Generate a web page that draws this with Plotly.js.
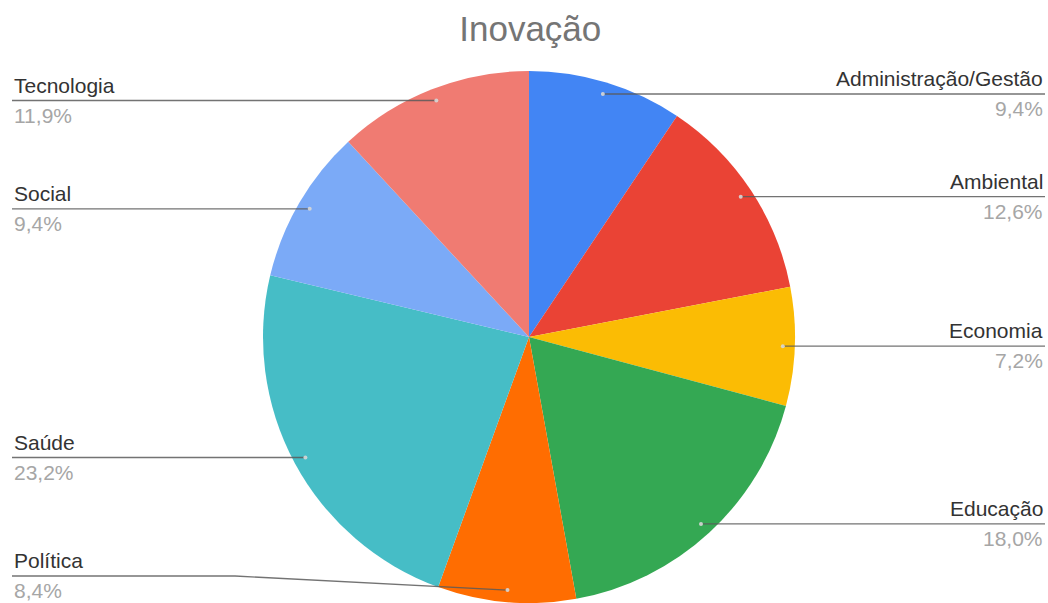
<!DOCTYPE html>
<html>
<head>
<meta charset="utf-8">
<script src="https://cdn.plot.ly/plotly-3.0.1.min.js"></script>
<style>
  html, body { margin: 0; padding: 0; background: #ffffff; }
  #chart { width: 1048px; height: 603px; }
</style>
</head>
<body>
<div id="chart"></div>
<script>
// ---- Data ----
const categories = ["Administração/Gestão", "Ambiental", "Economia", "Educação", "Política", "Saúde", "Social", "Tecnologia"];
const values = [9.4, 12.6, 7.2, 18.0, 8.4, 23.2, 9.4, 11.9];
const colors = ["#4285F4", "#EA4335", "#FBBC04", "#34A853", "#FF6D01", "#46BDC6", "#7BAAF7", "#F07B72"];
const chartTitle = "Inovação";

// ---- Layout geometry (pixels) ----
const W = 1048, H = 603;
const cx = 529, cy = 337, R = 266;
const dotR = 254;
const rightEdge = 1045, leftEdge = 12;
const maxLineY = 576;
const bendX = 235;
const fontFam = "Liberation Sans, Arial, sans-serif";

const total = values.reduce((a, b) => a + b, 0);

const shapes = [];
const annotations = [];
let cum = 0;
values.forEach((v, i) => {
  const theta = 2 * Math.PI * (cum + v / 2) / total;
  cum += v;
  const dx = cx + dotR * Math.sin(theta);
  const dy = cy - dotR * Math.cos(theta);
  const right = Math.sin(theta) > 0;
  const ly = Math.min(dy, maxLineY);
  const ex = right ? rightEdge : leftEdge;
  let path;
  if (Math.abs(ly - dy) > 0.5) {
    const bx = right ? W - bendX : bendX;
    path = `M ${ex},${ly} L ${bx},${ly} L ${dx},${dy}`;
  } else {
    path = `M ${ex},${ly} L ${dx},${dy}`;
  }
  shapes.push({
    type: "path", xref: "x", yref: "y", path: path,
    line: { color: "rgba(90,90,90,0.85)", width: 1.4 }, layer: "above"
  });
  shapes.push({
    type: "circle", xref: "x", yref: "y",
    x0: dx - 2, x1: dx + 2, y0: dy - 2, y1: dy + 2,
    fillcolor: "rgba(215,215,215,0.9)", line: { width: 0 }, layer: "above"
  });
  annotations.push({
    xref: "x", yref: "y", x: ex, y: ly,
    xanchor: right ? "right" : "left", yanchor: "bottom", yshift: 2,
    text: categories[i], showarrow: false,
    font: { family: fontFam, size: 21, color: "#333333" }
  });
  annotations.push({
    xref: "x", yref: "y", x: ex, y: ly,
    xanchor: right ? "right" : "left", yanchor: "top", yshift: -1,
    text: v.toFixed(1).replace(".", ",") + "%", showarrow: false,
    font: { family: fontFam, size: 21, color: "#a6a6a6" }
  });
});

const data = [
  {
    type: "scatter", x: [], y: [], hoverinfo: "skip", showlegend: false
  },
  {
    type: "pie",
    labels: categories,
    values: values,
    marker: { colors: colors, line: { color: "#ffffff", width: 0 } },
    sort: false,
    direction: "clockwise",
    rotation: 0,
    textinfo: "none",
    hoverinfo: "label+percent",
    showlegend: false,
    domain: { x: [(cx - R) / W, (cx + R) / W], y: [(H - cy - R) / H, (H - cy + R) / H] }
  }
];

const layout = {
  width: W, height: H,
  margin: { l: 0, r: 0, t: 0, b: 0 },
  paper_bgcolor: "#ffffff", plot_bgcolor: "rgba(0,0,0,0)",
  showlegend: false,
  title: {
    text: chartTitle,
    x: 0.506, xanchor: "center",
    y: 1 - 29 / H, yanchor: "middle", yref: "container",
    font: { family: fontFam, size: 35, color: "#757575" }
  },
  xaxis: { range: [0, W], visible: false, fixedrange: true },
  yaxis: { range: [H, 0], visible: false, fixedrange: true },
  shapes: shapes,
  annotations: annotations
};

Plotly.newPlot("chart", data, layout, { displayModeBar: false, staticPlot: true });
</script>
</body>
</html>
